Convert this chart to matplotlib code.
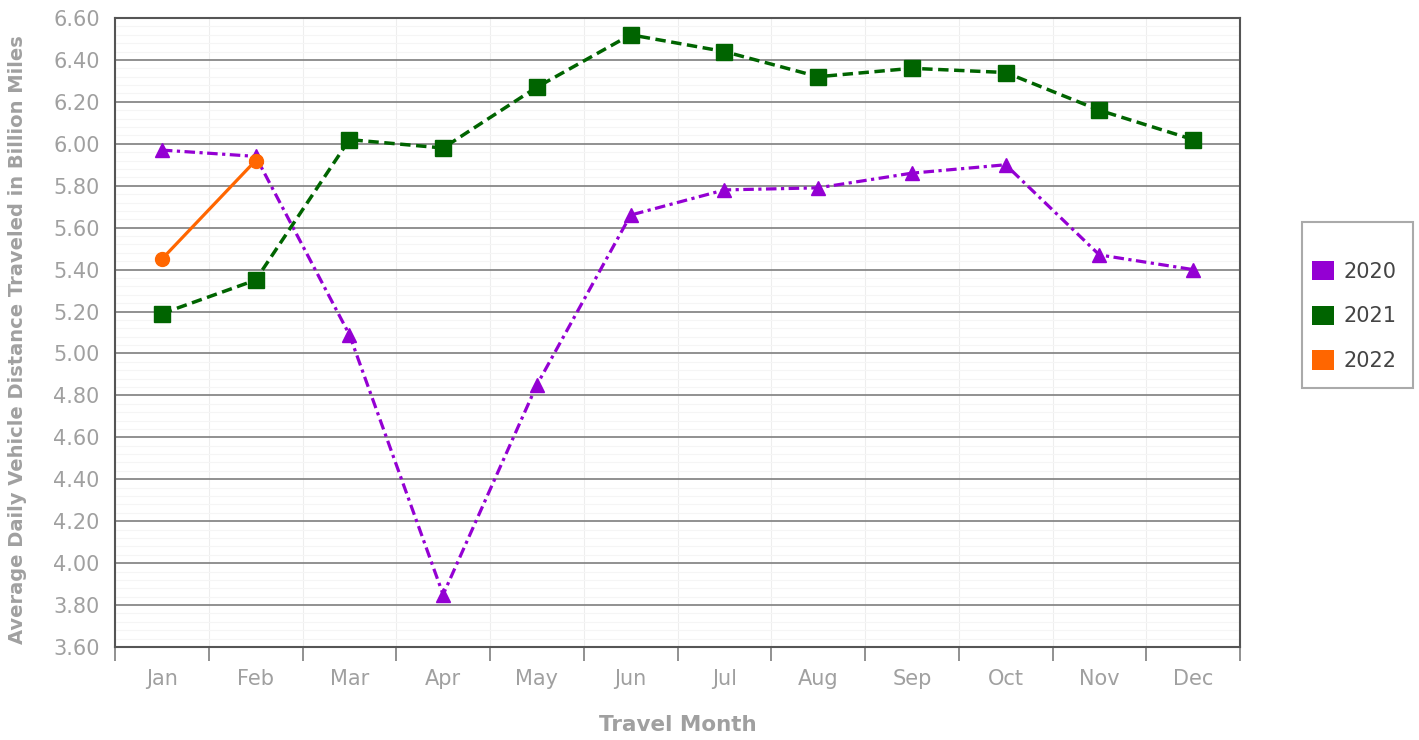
import matplotlib
matplotlib.use("Agg")
import matplotlib.pyplot as plt
import numpy as np
from matplotlib.ticker import MultipleLocator, FixedLocator
from matplotlib.patches import Patch, Rectangle

months = ["Jan", "Feb", "Mar", "Apr", "May", "Jun", "Jul", "Aug", "Sep", "Oct", "Nov", "Dec"]
vals_2020 = [5.97, 5.94, 5.09, 3.85, 4.85, 5.66, 5.78, 5.79, 5.86, 5.90, 5.47, 5.40]
vals_2021 = [5.19, 5.35, 6.02, 5.98, 6.27, 6.52, 6.44, 6.32, 6.36, 6.34, 6.16, 6.02]
vals_2022 = [5.45, 5.92]
y_ticks = [3.6, 3.8, 4.0, 4.2, 4.4, 4.6, 4.8, 5.0, 5.2, 5.4, 5.6, 5.8, 6.0, 6.2, 6.4, 6.6]

c2020 = "#9400D3"
c2021 = "#006400"
c2022 = "#FF6600"
gray = "#a0a0a0"

plt.rcParams['font.family'] = ['DejaVu Sans']
W, H = 1419, 740
fig = plt.figure(figsize=(W / 100, H / 100), dpi=100)
ax = fig.add_axes([115 / W, 1 - 647 / H, (1240 - 115) / W, (647 - 18) / H])

x = np.arange(len(months))
ax.plot(x, vals_2020, color=c2020, linestyle=(0, (3.3, 1.4, 1.0, 1.4)), linewidth=2.3,
        marker="^", markersize=10, zorder=3)
ax.plot(x, vals_2021, color=c2021, linestyle=(0, (3.0, 1.6)), linewidth=2.5,
        marker="s", markersize=11, zorder=3)
ax.plot(x[:len(vals_2022)], vals_2022, color=c2022, linestyle="-", linewidth=2.3,
        marker="o", markersize=10, zorder=4)

ax.set_xlim(-0.5, len(months) - 0.5)
ax.set_ylim(3.6, 6.6)
ax.set_yticks(y_ticks)
ax.set_yticklabels([f"{v:.2f}" for v in y_ticks])
ax.yaxis.set_minor_locator(MultipleLocator(0.04))
ax.set_xticks(x)
ax.set_xticklabels(months)
ax.xaxis.set_minor_locator(FixedLocator(np.arange(-0.5, len(months), 1.0)))

ax.grid(which="major", axis="y", color="#888888", linewidth=1.3, zorder=1)
ax.grid(which="minor", axis="y", color="#f5f5f5", linewidth=0.8, zorder=0)
ax.grid(which="minor", axis="x", color="#eeeeee", linewidth=0.8, zorder=0)

ax.tick_params(axis="x", which="major", length=0, pad=16, labelsize=15, labelcolor=gray)
ax.tick_params(axis="x", which="minor", length=10, width=1.3, color="#888888", direction="out")
ax.tick_params(axis="y", which="both", length=0, pad=11, labelsize=15, labelcolor=gray)

for side in ["left", "bottom", "right", "top"]:
    ax.spines[side].set_color("#555555")
    ax.spines[side].set_linewidth(1.5)

ax.set_xlabel("Travel Month", fontsize=15.5, fontweight="bold", color=gray)
ax.xaxis.set_label_coords(0.5, -(715 - 647) / 629)
ax.set_ylabel("Average Daily Vehicle Distance Traveled in Billion Miles", fontsize=14,
              fontweight="bold", color=gray)
ax.yaxis.set_label_coords(-(115 - 27) / 1125, 1 - (340 - 18) / 629)

# legend frame
fig.patches.append(Rectangle((1302 / W, 1 - 388 / H), (1413 - 1302) / W, (388 - 222) / H,
                             transform=fig.transFigure, facecolor="white",
                             edgecolor="#aaaaaa", linewidth=1.5, zorder=0))
handles = [Patch(facecolor=c2020, label="2020"), Patch(facecolor=c2021, label="2021"),
           Patch(facecolor=c2022, label="2022")]
leg = fig.legend(handles=handles, loc="center left", bbox_to_anchor=(1302 / W, 1 - 316 / H),
                 frameon=False, fontsize=15, handlelength=1.05, handleheight=1.05,
                 labelspacing=1.15, borderpad=0.0, handletextpad=0.45)
for t in leg.get_texts():
    t.set_color("#444444")

fig.savefig("out.png", dpi=100)
